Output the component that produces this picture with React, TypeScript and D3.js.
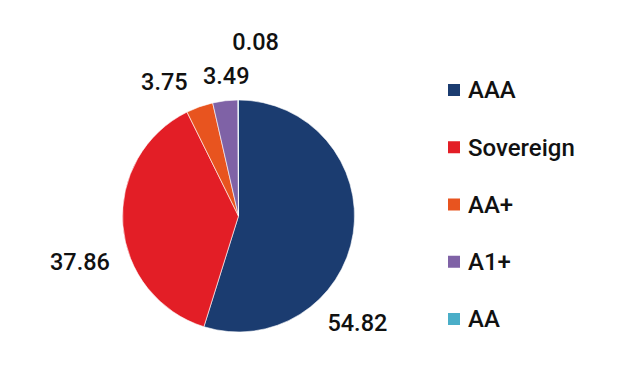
import { useRef, useEffect } from 'react'
import * as d3 from 'd3'

const CATEGORIES = ['AAA', 'Sovereign', 'AA+', 'A1+', 'AA']
const VALUES = [54.82, 37.86, 3.75, 3.49, 0.08]
const COLORS = ['#1b3c70', '#e31e26', '#e8541f', '#7f62a6', '#4aaec8']
// label placement: angle (deg, clockwise from top) and distance from centre
const LABEL_POS: [number, number][] = [
  [132, 160],
  [254, 165],
  [331, 153],
  [355, 141],
  [5.6, 175],
]

const W = 624
const H = 387

export default function App() {
  const svgRef = useRef<SVGSVGElement>(null)

  useEffect(() => {
    if (!svgRef.current) return
    const svg = d3.select(svgRef.current)
    svg.selectAll('*').remove()

    const cx = 238.5
    const cy = 216
    const radius = 116

    const data = CATEGORIES.map((c, i) => ({ cat: c, value: VALUES[i], color: COLORS[i], lp: LABEL_POS[i] }))
    type D = (typeof data)[number]

    const pie = d3.pie<D>().value((d) => d.value).sort(null)
    const arc = d3.arc<d3.PieArcDatum<D>>().innerRadius(0).outerRadius(radius)

    const g = svg.append('g').attr('transform', `translate(${cx},${cy})`)

    g.selectAll('path')
      .data(pie(data))
      .join('path')
      .attr('d', arc)
      .attr('fill', (d) => d.data.color)
      .attr('stroke', '#fff')
      .attr('stroke-width', 0.6)

    g.selectAll('text.lbl')
      .data(data)
      .join('text')
      .attr('class', 'lbl')
      .attr('x', (d) => Math.sin((d.lp[0] * Math.PI) / 180) * d.lp[1])
      .attr('y', (d) => -Math.cos((d.lp[0] * Math.PI) / 180) * d.lp[1])
      .attr('text-anchor', 'middle')
      .attr('dy', '0.35em')
      .attr('font-family', 'Roboto, sans-serif')
      .attr('font-size', '23.5px')
      .attr('font-weight', 500)
      .attr('fill', '#111')
      .text((d) => d.value.toFixed(2))

    // Legend
    const legend = svg.append('g').attr('transform', 'translate(448,0)')
    const y = d3.scalePoint<string>().domain(CATEGORIES).range([90, 319])

    const rows = legend
      .selectAll('g')
      .data(data)
      .join('g')
      .attr('transform', (d) => `translate(0,${y(d.cat)})`)

    rows
      .append('rect')
      .attr('x', 0)
      .attr('y', -6)
      .attr('width', 12)
      .attr('height', 12)
      .attr('fill', (d) => d.color)

    rows
      .append('text')
      .attr('x', 20)
      .attr('dy', '0.35em')
      .attr('font-family', 'Roboto, sans-serif')
      .attr('font-size', '24px')
      .attr('font-weight', 500)
      .attr('fill', '#111')
      .text((d) => d.cat)
  }, [])

  return (
    <svg
      ref={svgRef}
      width={W}
      height={H}
      style={{ position: 'absolute', left: 0, top: 0, background: '#fff' }}
    />
  )
}
